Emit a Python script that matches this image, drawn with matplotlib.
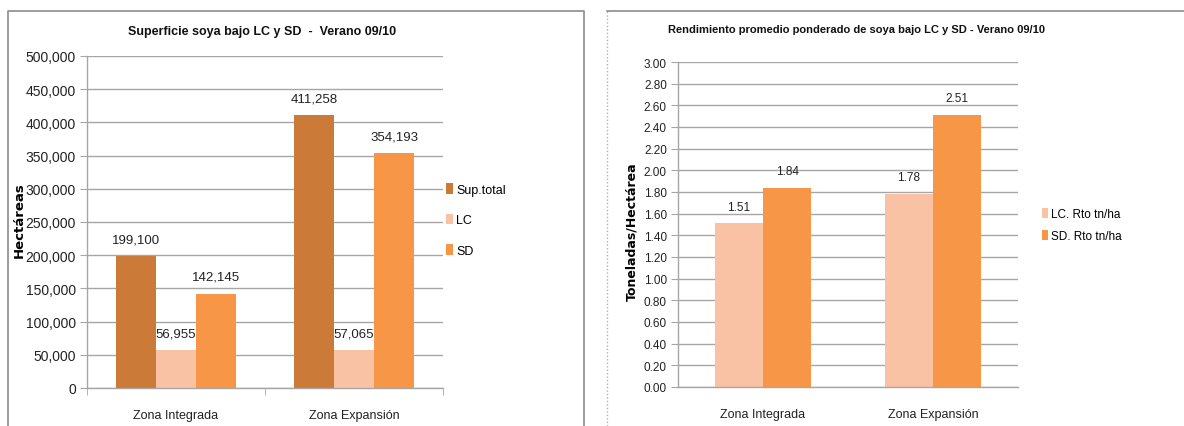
import matplotlib.pyplot as plt
import numpy as np
from matplotlib.lines import Line2D
from matplotlib.ticker import FuncFormatter

zonas = ["Zona Integrada", "Zona Expansión"]

# superficie (ha)
sup_total = [199100, 411258]
sup_lc = [56955, 57065]
sup_sd = [142145, 354193]

# rendimiento (tn/ha)
rto_lc = [1.51, 1.78]
rto_sd = [1.84, 2.51]

c_total = "#CC7A38"
c_lc = "#F9C2A5"
c_sd = "#F79646"
c_grid = "#A6A6A6"
c_text = "#222222"
plt.rcParams["font.family"] = ["Liberation Sans", "DejaVu Sans"]

fig = plt.figure(figsize=(11.84, 4.27), dpi=100)
W, H = 1184, 427

def fx(px):
    return px / W

def fy(py):
    return 1 - py / H

def style_axes(ax, tick_size):
    ax.set_facecolor("white")
    for s in ["top", "right"]:
        ax.spines[s].set_visible(False)
    for s in ["left", "bottom"]:
        ax.spines[s].set_color(c_grid)
        ax.spines[s].set_linewidth(1.0)
    ax.yaxis.grid(True, color=c_grid, linewidth=1.0)
    ax.set_axisbelow(True)
    ax.tick_params(axis="y", length=5, color=c_grid, labelsize=tick_size,
                   labelcolor=c_text, pad=3)
    ax.set_xlim(-0.5, 1.5)
    ax.set_xticks([0, 1])
    ax.set_xticklabels(zonas, fontsize=9, color=c_text)
    ax.tick_params(axis="x", which="major", length=0, pad=15)
    ax.set_xticks([-0.5, 0.5, 1.5], minor=True)
    ax.tick_params(axis="x", which="minor", length=5, color=c_grid)

def label_bars(ax, bars, fmt, size):
    for b in bars:
        v = b.get_height()
        ax.annotate(fmt(v), (b.get_x() + b.get_width() / 2, v),
                    xytext=(0, 12), textcoords="offset points",
                    ha="center", va="center", fontsize=size, color=c_text)

# panel frames
fig.add_artist(Line2D([fx(8), fx(8), fx(584), fx(584)],
                      [0, fy(12), fy(12), 0], color="#8C8C8C", lw=1.2))
fig.add_artist(Line2D([fx(607), fx(607)], [0, fy(12)], color="#B0B0B0",
                      lw=1.0, ls=(0, (1, 1.5))))
fig.add_artist(Line2D([fx(607), 1], [fy(12), fy(12)], color="#8C8C8C", lw=1.2))

# left chart: superficie
ax1 = fig.add_axes([fx(87), fy(389), fx(443 - 87), (389 - 57) / H])
style_axes(ax1, 10)
x = np.arange(len(zonas))
w = 0.225
b1 = ax1.bar(x - w, sup_total, w, color=c_total, label="Sup.total")
b2 = ax1.bar(x, sup_lc, w, color=c_lc, label="LC")
b3 = ax1.bar(x + w, sup_sd, w, color=c_sd, label="SD")
ax1.set_ylim(0, 500000)
ax1.set_yticks(np.arange(0, 500001, 50000))
ax1.yaxis.set_major_formatter(FuncFormatter(lambda v, p: f"{int(v):,}"))
for bars in (b1, b2, b3):
    label_bars(ax1, bars, lambda v: f"{int(v):,}", 9.5)
fig.text(fx(262), fy(32), "Superficie soya bajo LC y SD  -  Verano 09/10",
         ha="center", va="center", fontsize=9, fontweight="bold",
         color="#111111")
fig.text(fx(19), fy(220), "Hectáreas", rotation=90, ha="center",
         va="center", fontsize=9.5, fontweight="bold", family="DejaVu Sans")
fig.legend(handles=[b1, b2, b3], loc="center left",
           bbox_to_anchor=(fx(440), fy(221)), frameon=False, fontsize=9,
           handlelength=0.55, handleheight=0.9, handletextpad=0.25,
           labelspacing=1.45, borderpad=0)

# right chart: rendimiento
ax2 = fig.add_axes([fx(678), fy(388), fx(1018 - 678), (388 - 63) / H])
style_axes(ax2, 8.5)
w2 = 0.285
r1 = ax2.bar(x - w2 / 2, rto_lc, w2, color=c_lc, label="LC. Rto tn/ha")
r2 = ax2.bar(x + w2 / 2, rto_sd, w2, color=c_sd, label="SD. Rto tn/ha")
ax2.set_ylim(0, 3.0)
ax2.set_yticks(np.arange(0, 3.01, 0.2))
ax2.yaxis.set_major_formatter(FuncFormatter(lambda v, p: f"{v:.2f}"))
ax2.tick_params(axis="x", which="minor", length=0)
for bars in (r1, r2):
    label_bars(ax2, bars, lambda v: f"{v:.2f}", 8.5)
fig.text(fx(857), fy(30),
         "Rendimiento promedio ponderado de soya bajo LC y SD - Verano 09/10",
         ha="center", va="center", fontsize=8, fontweight="bold",
         color="#111111")
fig.text(fx(632), fy(232), "Toneladas/Hectárea", rotation=90, ha="center",
         va="center", fontsize=9, fontweight="bold", family="DejaVu Sans")
fig.legend(handles=[r1, r2], loc="center left",
           bbox_to_anchor=(fx(1036), fy(226)), frameon=False, fontsize=8.5,
           handlelength=0.55, handleheight=0.9, handletextpad=0.25,
           labelspacing=0.9, borderpad=0)

fig.savefig("out.png", dpi=100, facecolor="white")
